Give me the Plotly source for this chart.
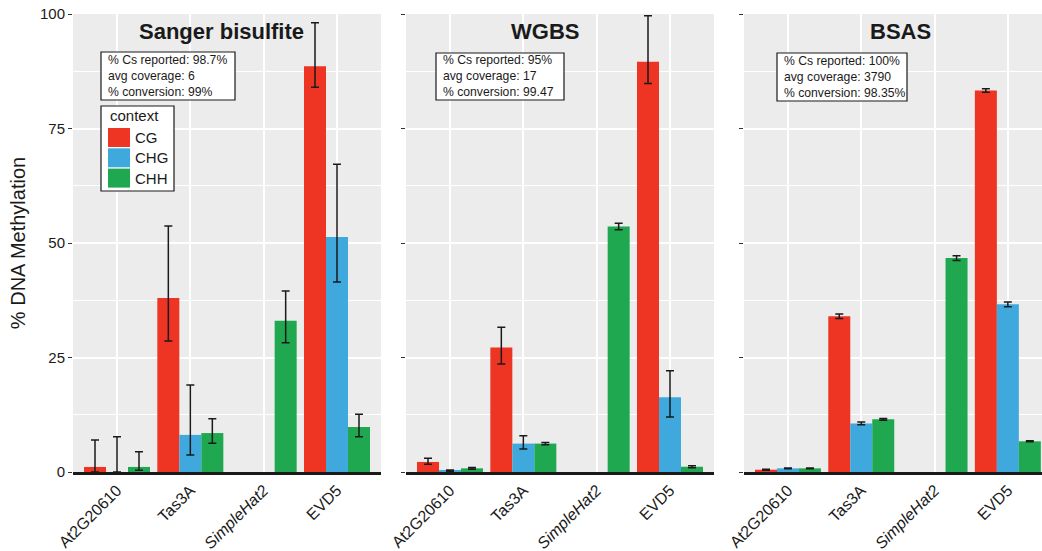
import plotly.graph_objects as go

categories = ["At2G20610", "Tas3A", "SimpleHat2", "EVD5"]
tick_labels = ["At2G20610", "Tas3A", "<i>SimpleHat2</i>", "EVD5"]
contexts = ["CG", "CHG", "CHH"]
colors = {"CG": "#EE3524", "CHG": "#3FA9DE", "CHH": "#1FA84F"}

panels = ["Sanger bisulfite", "WGBS", "BSAS"]
info_text = {
    "Sanger bisulfite": ["% Cs reported: 98.7%", "avg coverage: 6", "% conversion: 99%"],
    "WGBS": ["% Cs reported: 95%", "avg coverage: 17", "% conversion: 99.47"],
    "BSAS": ["% Cs reported: 100%", "avg coverage: 3790", "% conversion: 98.35%"],
}

# mean values per panel / context, in category order
values = {
    "Sanger bisulfite": {
        "CG":  [1.1, 38.0, None, 88.6],
        "CHG": [0.0, 8.1, None, 51.3],
        "CHH": [1.1, 8.5, 33.0, 9.8],
    },
    "WGBS": {
        "CG":  [2.2, 27.2, None, 89.6],
        "CHG": [0.3, 6.2, None, 16.3],
        "CHH": [0.8, 6.2, 53.6, 1.15],
    },
    "BSAS": {
        "CG":  [0.5, 34.0, None, 83.3],
        "CHG": [0.8, 10.6, None, 36.6],
        "CHH": [0.8, 11.5, 46.7, 6.7],
    },
}
# upper / lower ends of error bars
upper = {
    "Sanger bisulfite": {
        "CG":  [7.0, 53.7, None, 98.1],
        "CHG": [7.7, 19.0, None, 67.2],
        "CHH": [4.4, 11.6, 39.5, 12.6],
    },
    "WGBS": {
        "CG":  [3.0, 31.6, None, 99.6],
        "CHG": [0.45, 7.9, None, 22.1],
        "CHH": [1.0, 6.45, 54.3, 1.35],
    },
    "BSAS": {
        "CG":  [0.6, 34.5, None, 83.7],
        "CHG": [0.9, 10.9, None, 37.1],
        "CHH": [0.9, 11.7, 47.2, 6.8],
    },
}
lower = {
    "Sanger bisulfite": {
        "CG":  [0.0, 28.6, None, 84.0],
        "CHG": [0.0, 3.7, None, 41.5],
        "CHH": [0.4, 6.3, 28.2, 7.7],
    },
    "WGBS": {
        "CG":  [1.7, 23.6, None, 84.8],
        "CHG": [0.15, 5.0, None, 12.0],
        "CHH": [0.6, 5.95, 52.9, 0.95],
    },
    "BSAS": {
        "CG":  [0.4, 33.5, None, 82.9],
        "CHG": [0.7, 10.3, None, 36.1],
        "CHH": [0.7, 11.3, 46.2, 6.6],
    },
}

FONT = "Liberation Sans, Arial"
INK = "#1a1a1a"
W, H = 1042, 551
ML, MR, MT, MB = 73, 0, 14, 79
PW = W - ML - MR
PH = H - MT - MB


def px_x(p):
    return (p - ML) / PW


def px_y(p):
    return (H - MB - p) / PH


# pixel extents of the three panels
panel_px = [(73, 381), (406, 714), (744, 1042)]
xranges = [[-0.6, 3.6], [-0.6, 3.6], [-0.6, 3.466]]
title_x = [1.42, 1.30, 1.53]

fig = go.Figure()

for pi, pname in enumerate(panels):
    ax = "" if pi == 0 else str(pi + 1)
    for ctx in contexts:
        v = values[pname][ctx]
        up = [None if (a is None or b is None) else a - b for a, b in zip(upper[pname][ctx], v)]
        dn = [None if (a is None or b is None) else b - a for a, b in zip(lower[pname][ctx], v)]
        fig.add_trace(go.Bar(
            x=categories, y=v, name=ctx,
            marker=dict(color=colors[ctx], line=dict(width=0)),
            error_y=dict(type="data", symmetric=False, array=up, arrayminus=dn,
                         color=INK, thickness=1.5, width=4),
            xaxis="x" + ax, yaxis="y" + ax,
            legendgroup=ctx, showlegend=False,
        ))

    x0, x1 = panel_px[pi]
    dom = [px_x(x0), px_x(x1)]
    xa = dict(
        domain=dom, type="category", range=xranges[pi],
        categoryorder="array", categoryarray=categories,
        tickvals=categories, ticktext=tick_labels,
        showgrid=True, gridcolor="white", gridwidth=1.5,
        showline=True, linecolor=INK, linewidth=2.5,
        ticks="", tickangle=-45,
        tickfont=dict(family=FONT, size=16, color=INK),
        anchor="y" + ax, fixedrange=True,
    )
    ya = dict(
        range=[0, 100], tickvals=[0, 25, 50, 75, 100],
        showgrid=True, gridcolor="white", gridwidth=1.5,
        minor=dict(tickvals=[12.5, 37.5, 62.5, 87.5], showgrid=True,
                   gridcolor="white", gridwidth=0.7, ticks=""),
        zeroline=False, showline=False,
        ticks="outside", ticklen=4, tickcolor="#333333", tickwidth=1,
        tickfont=dict(family=FONT, size=15, color=INK),
        anchor="x" + ax, fixedrange=True,
        showticklabels=(pi == 0),
    )
    if pi == 0:
        ya["title"] = dict(text="% DNA Methylation", standoff=8,
                           font=dict(family=FONT, size=20, color=INK))
    else:
        ya["matches"] = "y"
    fig.update_layout(**{"xaxis" + ax: xa, "yaxis" + ax: ya})

    # panel background
    fig.add_shape(type="rect", xref="x" + ax + " domain", yref="y" + ax + " domain",
                  x0=0, x1=1, y0=0, y1=1, fillcolor="#EBECEB", line=dict(width=0),
                  layer="below")

    # panel title
    fig.add_annotation(text="<b>" + pname + "</b>", x=title_x[pi], xref="x" + ax,
                       y=px_y(31), yref="paper", showarrow=False,
                       xanchor="center", yanchor="middle",
                       font=dict(family=FONT, size=22, color=INK))

# info boxes (left, top, right, bottom pixels)
box_px = [(101, 52, 235, 100), (436, 53, 564, 100), (777, 53, 907, 101)]
for pi, pname in enumerate(panels):
    bx0, by0, bx1, by1 = box_px[pi]
    fig.add_shape(type="rect", xref="paper", yref="paper",
                  x0=px_x(bx0), x1=px_x(bx1), y0=px_y(by1), y1=px_y(by0),
                  fillcolor="white", line=dict(color=INK, width=1.2), layer="above")
    fig.add_annotation(text="<br>".join(info_text[pname]),
                       x=px_x(bx0 + 6), xref="paper",
                       y=px_y((by0 + by1) / 2), yref="paper",
                       xanchor="left", yanchor="middle", align="left", showarrow=False,
                       borderpad=0,
                       font=dict(family=FONT, size=12.2, color=INK))

# legend box ("context")
LX0, LY0, LX1, LY1 = 101, 106, 174, 191
fig.add_shape(type="rect", xref="paper", yref="paper",
              x0=px_x(LX0), x1=px_x(LX1), y0=px_y(LY1), y1=px_y(LY0),
              fillcolor="white", line=dict(color=INK, width=1.2), layer="above")
fig.add_annotation(text="context", x=px_x(108), xref="paper", y=px_y(116), yref="paper",
                   xanchor="left", yanchor="middle", showarrow=False,
                   font=dict(family=FONT, size=15, color=INK))
for i, ctx in enumerate(contexts):
    ky0 = 128 + i * 20.3
    fig.add_shape(type="rect", xref="paper", yref="paper",
                  x0=px_x(108), x1=px_x(130), y0=px_y(ky0 + 19), y1=px_y(ky0),
                  fillcolor=colors[ctx], line=dict(width=0), layer="above")
    fig.add_annotation(text=ctx, x=px_x(133), xref="paper", y=px_y(ky0 + 9.5), yref="paper",
                       xanchor="left", yanchor="middle", showarrow=False,
                       font=dict(family=FONT, size=15, color=INK))

fig.update_layout(
    width=W, height=H,
    margin=dict(l=ML, r=MR, t=MT, b=MB, pad=0),
    paper_bgcolor="white", plot_bgcolor="rgba(0,0,0,0)",
    barmode="group", bargap=0.1, bargroupgap=0,
    showlegend=False,
    font=dict(family=FONT),
)

fig.write_html("out.html")
